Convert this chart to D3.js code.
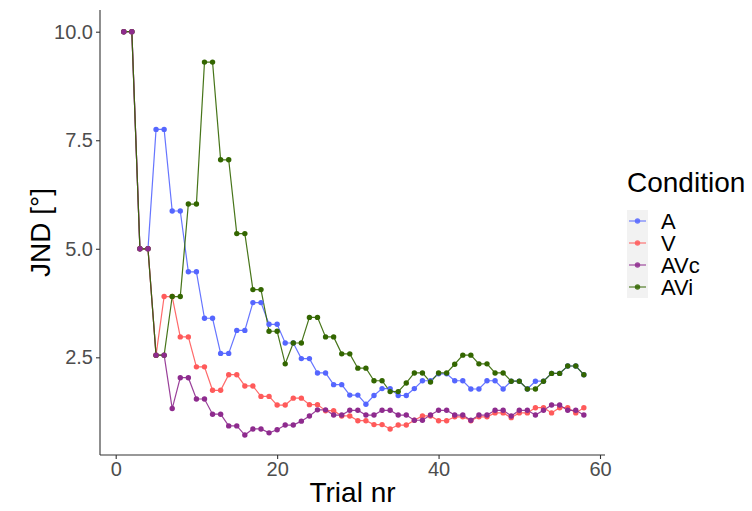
<!DOCTYPE html>
<html>
<head>
<meta charset="utf-8">
<script src="https://cdn.jsdelivr.net/npm/d3@7"></script>
<style>
  body { margin: 0; background: #fff; }
  svg { display: block; font-family: "Liberation Sans", Arial, sans-serif; }
</style>
</head>
<body>
<div id="chart"></div>
<script>
// trial numbers 1..58
const TRIALS = d3.range(1, 59);

const SERIES_NAMES = ["A", "V", "AVc", "AVi"];
const SERIES_COLOURS = ["#5566ff", "#ff5a5a", "#8e2b8e", "#336600"];

const VALUES_A = [
  10, 10, 5, 5, 7.75, 7.75, 5.87, 5.87, 4.47, 4.47,
  3.4, 3.4, 2.59, 2.59, 3.12, 3.12, 3.76, 3.76, 3.26, 3.26,
  2.83, 2.83, 2.47, 2.47, 2.14, 2.14, 1.87, 1.87, 1.63, 1.63,
  1.42, 1.62, 1.78, 1.78, 1.62, 1.62, 1.78, 1.96, 1.96, 2.12,
  2.12, 1.96, 1.96, 1.77, 1.77, 1.96, 1.96, 1.77, 1.95, 1.95,
  1.77, 1.95, 1.95, 2.13, 2.13, 2.3, 2.3, 2.1
];
const VALUES_V = [
  10, 10, 5, 5, 2.55, 3.9, 3.9, 2.97, 2.97, 2.28,
  2.28, 1.74, 1.74, 2.1, 2.1, 1.84, 1.84, 1.6, 1.6, 1.4,
  1.4, 1.56, 1.56, 1.41, 1.41, 1.27, 1.27, 1.15, 1.15, 1.04,
  1.04, 0.95, 0.95, 0.85, 0.94, 0.94, 1.05, 1.15, 1.15, 1.04,
  1.04, 1.13, 1.13, 1.04, 1.13, 1.13, 1.22, 1.22, 1.11, 1.22,
  1.22, 1.34, 1.34, 1.22, 1.34, 1.34, 1.22, 1.34
];
const VALUES_AVC = [
  10, 10, 5, 5, 2.55, 2.55, 1.32, 2.03, 2.03, 1.54,
  1.54, 1.19, 1.19, 0.92, 0.92, 0.71, 0.85, 0.85, 0.76, 0.83,
  0.94, 0.94, 1.03, 1.15, 1.29, 1.29, 1.17, 1.17, 1.28, 1.28,
  1.17, 1.17, 1.28, 1.28, 1.17, 1.17, 1.05, 1.05, 1.17, 1.28,
  1.28, 1.17, 1.17, 1.05, 1.17, 1.17, 1.28, 1.28, 1.15, 1.28,
  1.28, 1.17, 1.28, 1.4, 1.4, 1.28, 1.28, 1.17
];
const VALUES_AVI = [
  10, 10, 5, 5, 2.55, 2.55, 3.9, 3.9, 6.03, 6.03,
  9.3, 9.3, 7.05, 7.05, 5.35, 5.35, 4.06, 4.06, 3.1, 3.1,
  2.35, 2.83, 2.83, 3.42, 3.42, 2.97, 2.97, 2.58, 2.58, 2.25,
  2.25, 1.96, 1.96, 1.71, 1.71, 1.91, 2.14, 2.14, 1.93, 2.14,
  2.14, 2.34, 2.55, 2.55, 2.35, 2.35, 2.14, 2.14, 1.95, 1.95,
  1.77, 1.77, 1.95, 2.13, 2.13, 2.3, 2.3, 2.1
];

const Y_TICKS = [2.5, 5.0, 7.5, 10.0];
const X_TICKS = [0, 20, 40, 60];

const series = [VALUES_A, VALUES_V, VALUES_AVC, VALUES_AVI].map((vals, i) => ({
  name: SERIES_NAMES[i],
  colour: SERIES_COLOURS[i],
  points: TRIALS.map((t, j) => ({ trial: t, value: vals[j] }))
}));

const width = 752, height = 511;
const panel = { left: 100, right: 605, top: 10, bottom: 455 };

const svg = d3.select("#chart").append("svg")
  .attr("width", width)
  .attr("height", height);

const x = d3.scaleLinear().domain([0, 60]).range([115.7, 600]);
const y = d3.scaleLinear().domain([0.25, 10.5]).range([panel.bottom, panel.top]);

// axes
const yAxis = svg.append("g")
  .attr("transform", `translate(${panel.left},0)`)
  .call(d3.axisLeft(y).tickValues(Y_TICKS).tickFormat(d3.format(".1f")).tickSize(4).tickSizeOuter(0));
yAxis.select(".domain").attr("d", `M0,${panel.top}V${panel.bottom}`).attr("stroke", "#333").attr("stroke-width", 1.1);
yAxis.selectAll(".tick line").attr("stroke", "#333").attr("stroke-width", 1.1);
yAxis.selectAll(".tick text").attr("fill", "#4d4d4d").attr("font-size", 20).attr("x", -7)
  .attr("font-family", "Liberation Sans, Arial, sans-serif");

const xAxis = svg.append("g")
  .attr("transform", `translate(0,${panel.bottom})`)
  .call(d3.axisBottom(x).tickValues(X_TICKS).tickSize(4).tickSizeOuter(0));
xAxis.select(".domain").attr("d", `M${panel.left},0H${panel.right}`).attr("stroke", "#333").attr("stroke-width", 1.1);
xAxis.selectAll(".tick line").attr("stroke", "#333").attr("stroke-width", 1.1);
xAxis.selectAll(".tick text").attr("fill", "#4d4d4d").attr("font-size", 20).attr("y", 7)
  .attr("font-family", "Liberation Sans, Arial, sans-serif");

// lines, drawn in factor order
const line = d3.line().x(d => x(d.trial)).y(d => y(d.value));
svg.append("g").selectAll("path")
  .data(series)
  .enter()
  .append("path")
  .attr("d", d => line(d.points))
  .attr("fill", "none")
  .attr("stroke", d => d.colour)
  .attr("stroke-width", 1.2)
  .attr("stroke-opacity", 0.9);

// points, AVc ends on top
const pointOrder = [series[0], series[1], series[3], series[2]];
pointOrder.forEach(s => {
  svg.append("g").selectAll("circle")
    .data(s.points)
    .enter()
    .append("circle")
    .attr("cx", d => x(d.trial))
    .attr("cy", d => y(d.value))
    .attr("r", 2.7)
    .attr("fill", s.colour);
});

// axis titles
svg.append("text")
  .attr("x", (panel.left + panel.right) / 2)
  .attr("y", 502)
  .attr("text-anchor", "middle")
  .attr("font-size", 28)
  .attr("fill", "#000")
  .text("Trial nr");

svg.append("text")
  .attr("transform", `translate(50,${(panel.top + panel.bottom) / 2}) rotate(-90)`)
  .attr("text-anchor", "middle")
  .attr("font-size", 28)
  .attr("fill", "#000")
  .text("JND [°]");

// legend
const legend = svg.append("g").attr("transform", "translate(627,0)");
legend.append("text")
  .attr("x", 0)
  .attr("y", 192)
  .attr("font-size", 28)
  .attr("fill", "#000")
  .text("Condition");

legend.append("rect")
  .attr("x", 0).attr("y", 210)
  .attr("width", 21).attr("height", 88)
  .attr("fill", "#f2f2f2");

const items = legend.selectAll(".legend-item")
  .data(series)
  .enter()
  .append("g")
  .attr("class", "legend-item")
  .attr("transform", (d, i) => `translate(0,${221 + i * 22})`);

items.append("line")
  .attr("x1", 2).attr("x2", 19)
  .attr("stroke", d => d.colour)
  .attr("stroke-opacity", 0.7)
  .attr("stroke-width", 1.4);

items.append("circle")
  .attr("cx", 10.5).attr("r", 2.7)
  .attr("fill", d => d.colour)
  .attr("fill-opacity", 0.85);

items.append("text")
  .attr("x", 34)
  .attr("y", 8)
  .attr("font-size", 22)
  .attr("fill", "#000")
  .text(d => d.name);
</script>
</body>
</html>
